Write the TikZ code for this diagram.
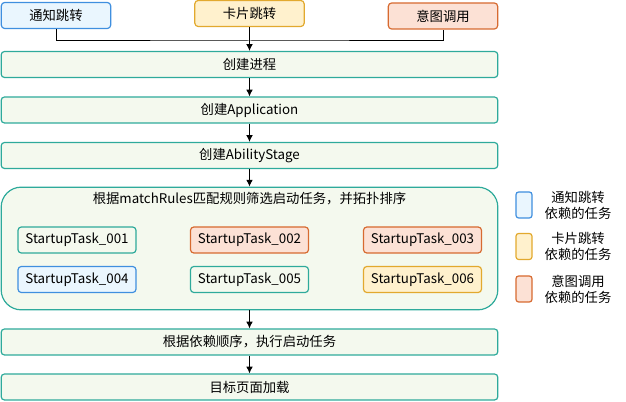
\documentclass[tikz,border=0pt]{standalone}
\usepackage{fontspec}
\setmainfont{Noto Sans CJK SC}
\usepackage{tikz}
\usetikzlibrary{calc, shapes, arrows.meta}
\definecolor{tealline}{HTML}{2EAA9B}
\definecolor{greenfill}{HTML}{F4F9EE}
\definecolor{blueline}{HTML}{3F8FDF}
\definecolor{bluefill}{HTML}{EAF6FE}
\definecolor{yellowline}{HTML}{E2A92E}
\definecolor{yellowfill}{HTML}{FFF1CD}
\definecolor{orangeline}{HTML}{D76A30}
\definecolor{orangefill}{HTML}{FCE1D5}
\tikzstyle{block} = [draw=tealline, fill=greenfill, rectangle, rounded corners=2.5pt,
    line width=0.9pt, minimum width=372.5pt, minimum height=19.5pt, inner sep=0pt]
\tikzstyle{source} = [rectangle, rounded corners=2.5pt, line width=0.9pt,
    minimum width=82pt, minimum height=19.5pt, inner sep=0pt]
\tikzstyle{task} = [rectangle, rounded corners=2.5pt, line width=0.9pt,
    minimum width=88.5pt, minimum height=19.5pt, inner sep=0pt]
\tikzstyle{legendbox} = [rectangle, rounded corners=2pt, line width=0.9pt,
    minimum width=12pt, minimum height=19.5pt, inner sep=0pt]
\tikzstyle{blue} = [draw=blueline, fill=bluefill]
\tikzstyle{yellow} = [draw=yellowline, fill=yellowfill]
\tikzstyle{orange} = [draw=orangeline, fill=orangefill]
\tikzstyle{plain} = [draw=tealline, fill=greenfill]

\begin{document}
\begin{tikzpicture}[x=0.75pt, y=-0.75pt, >={Latex[length=5pt, width=5pt]}, line width=0.75pt]
            \useasboundingbox (0, 0) rectangle (626, 402);

            % sources
            \node[source, blue, name=notify] at (56, 15.5) {通知跳转};
            \node[source, yellow, name=card] at (249.5, 13.5) {卡片跳转};
            \node[source, orange, name=intent] at (443, 16) {意图调用};

            % main flow
            \node[block, name=process] at (249.5, 64.5) {创建进程};
            \node[block, name=app] at (249.5, 110) {创建Application};
            \node[block, name=stage] at (249.5, 155.5) {创建AbilityStage};
            \node[block, rounded corners=15pt, minimum height=92pt, name=group] at (249.5, 248.5) {};
            \node[name=grouptitle] at (249.5, 199) {根据matchRules匹配规则筛选启动任务，并拓扑排序};
            \node[block, name=run] at (249.5, 342) {根据依赖顺序，执行启动任务};
            \node[block, name=load] at (249.5, 387) {目标页面加载};

            % startup tasks
            \node[task, plain, name=t1] at (77, 240) {StartupTask\_001};
            \node[task, orange, name=t2] at (249.5, 240) {StartupTask\_002};
            \node[task, orange, name=t3] at (422.5, 240) {StartupTask\_003};
            \node[task, blue, name=t4] at (77, 279.5) {StartupTask\_004};
            \node[task, plain, name=t5] at (249.5, 279.5) {StartupTask\_005};
            \node[task, yellow, name=t6] at (422.5, 279.5) {StartupTask\_006};

            % legend
            \node[legendbox, blue, name=lg1] at (524, 205) {};
            \node[legendbox, yellow, name=lg2] at (524, 246.5) {};
            \node[legendbox, orange, name=lg3] at (524, 289) {};
            \node[align=center, name=lt1] at (578, 205) {通知跳转\\依赖的任务};
            \node[align=center, name=lt2] at (578, 246.5) {卡片跳转\\依赖的任务};
            \node[align=center, name=lt3] at (578, 289) {意图调用\\依赖的任务};

            \coordinate (bus) at (249.5, 41);
            \draw (notify) |- (bus) -| (intent);
            \draw[->] (card) -- (process);
            \draw[->] (process) -- (app);
            \draw[->] (app) -- (stage);
            \draw[->] (stage) -- (group);
            \draw[->] (group) -- (run);
            \draw[->] (run) -- (load);
        \end{tikzpicture}
\end{document}
